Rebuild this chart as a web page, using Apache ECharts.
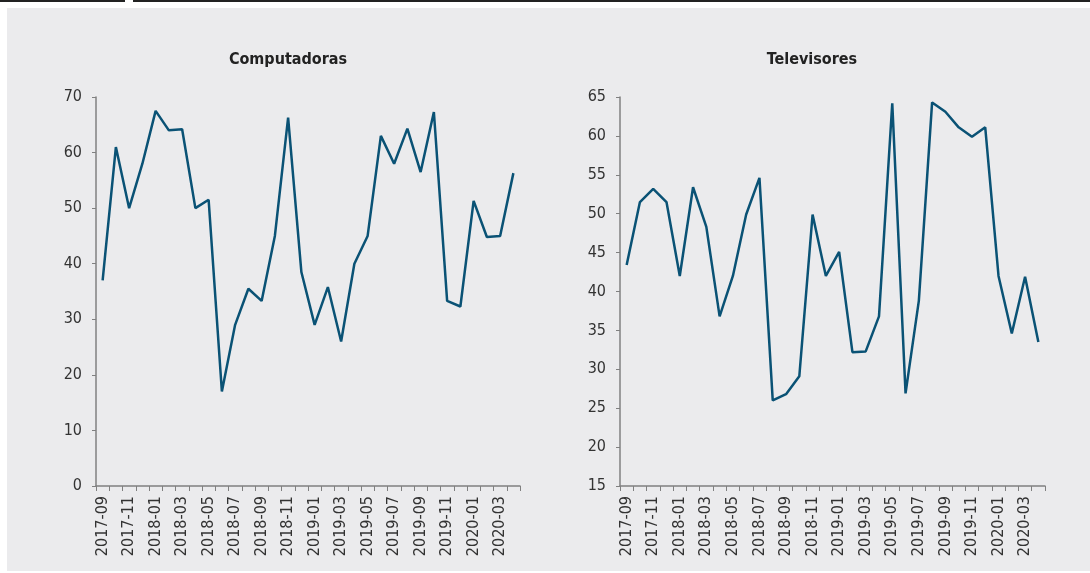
<!DOCTYPE html>
<html><head><meta charset="utf-8">
<script src="https://cdn.jsdelivr.net/npm/echarts@6/dist/echarts.min.js"></script>
<style>html,body{margin:0;padding:0;background:#fff}#c{width:1090px;height:573px}</style>
</head><body><div id="c"></div>
<script>
const categories = ['2017-09','2017-10','2017-11','2017-12','2018-01','2018-02','2018-03','2018-04','2018-05','2018-06','2018-07','2018-08','2018-09','2018-10','2018-11','2018-12','2019-01','2019-02','2019-03','2019-04','2019-05','2019-06','2019-07','2019-08','2019-09','2019-10','2019-11','2019-12','2020-01','2020-02','2020-03','2020-04'];
const computadoras = [37,61,50,58,67.5,64,64.2,50,51.5,17,29,35.5,33.3,45,66.3,38.5,29,35.8,26,40,45,63,58,64.3,56.5,67.3,33.3,32.3,51.3,44.8,45,56.3];
const televisores = [43.4,51.5,53.2,51.5,42,53.4,48.3,36.8,42,49.9,54.6,26,26.8,29.1,49.9,42,45.1,32.2,32.3,36.8,64.2,26.9,38.8,64.3,63.1,61.1,59.9,61.1,42,34.6,41.9,33.5];
const titles = ['Computadoras','Televisores'];

const FONT = '"Liberation Sans Narrow","DejaVu Sans Condensed","Roboto",sans-serif';
const lineColor = '#0a5275';
const axisColor = '#808080';

function xAxis(gi){
  return {type:'category', gridIndex:gi, data:categories, boundaryGap:true,
    axisLine:{lineStyle:{color:axisColor,width:1.5}},
    axisTick:{show:true,interval:0,length:5,lineStyle:{color:axisColor}},
    axisLabel:{interval:1,rotate:90,fontFamily:FONT,fontSize:16,color:'#333',margin:10},
    splitLine:{show:false}};
}
function yAxis(gi,min,max,interval){
  return {type:'value', gridIndex:gi, min:min, max:max, interval:interval,
    axisLine:{show:true,lineStyle:{color:axisColor,width:1.5}},
    axisTick:{show:true,length:4,lineStyle:{color:axisColor}},
    axisLabel:{fontFamily:FONT,fontSize:16,color:'#333',margin:14},
    splitLine:{show:false}};
}
const chart = echarts.init(document.getElementById('c'));
chart.setOption({
  backgroundColor:'#fff',
  animation:false,
  graphic:[
    {type:'rect',shape:{x:7,y:8,width:1083,height:563},style:{fill:'#ebebed'},z:-10,silent:true},
    {type:'line',shape:{x1:0,y1:1,x2:125,y2:1},style:{stroke:'#222',lineWidth:2},silent:true},
    {type:'line',shape:{x1:133,y1:1,x2:1090,y2:1},style:{stroke:'#222',lineWidth:2},silent:true}
  ],
  title:[
    {text:titles[0],left:283,top:47,textAlign:'center',textStyle:{fontFamily:FONT,fontWeight:'bold',fontSize:16,color:'#222'}},
    {text:titles[1],left:807,top:47,textAlign:'center',textStyle:{fontFamily:FONT,fontWeight:'bold',fontSize:16,color:'#222'}}
  ],
  grid:[
    {left:96,top:97,width:424,height:389},
    {left:620,top:97,width:425,height:389}
  ],
  xAxis:[xAxis(0),xAxis(1)],
  yAxis:[yAxis(0,0,70,10),yAxis(1,15,65,5)],
  series:[
    {type:'line',xAxisIndex:0,yAxisIndex:0,data:computadoras,showSymbol:false,lineStyle:{color:lineColor,width:2.5}},
    {type:'line',xAxisIndex:1,yAxisIndex:1,data:televisores,showSymbol:false,lineStyle:{color:lineColor,width:2.5}}
  ]
});
</script></body></html>
